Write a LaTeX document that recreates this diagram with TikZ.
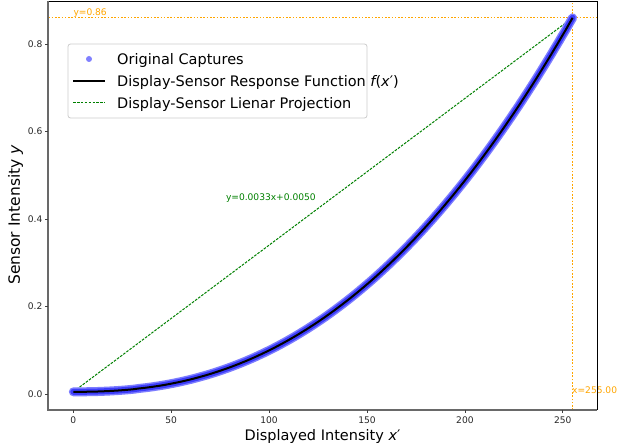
\documentclass[tikz,border=0pt]{standalone}
\usepackage{fontspec}
\setmainfont{DejaVu Sans}
\definecolor{mplgreen}{RGB}{0,128,0}
\definecolor{mplorange}{RGB}{255,165,0}
\definecolor{bandout}{RGB}{125,125,255}
\definecolor{bandin}{RGB}{60,60,250}
\definecolor{legmark}{RGB}{128,128,255}
\definecolor{spinegray}{RGB}{105,105,105}
\tikzset{
  bigfont/.style={font=\fontsize{14.5}{17}\selectfont},
  smallfont/.style={font=\fontsize{9.1}{11}\selectfont},
  ticklbl/.style={smallfont, inner sep=0pt, text=black!85},
  tickmark/.style={draw=black!75, line width=0.8pt},
  greendash/.style={draw=mplgreen, line width=1pt, dash pattern=on 2.6pt off 1.3pt},
  orangedot/.style={draw=mplorange, line width=1.4pt, dash pattern=on 1.6pt off 1.7pt},
}
\begin{document}
\begin{tikzpicture}[x=1pt,y=1pt]
\useasboundingbox (0,0) rectangle (617,446);
% axes corners
\coordinate (axSW) at (48,36);
\coordinate (axSE) at (597,36);
\coordinate (axNW) at (48,445);
\coordinate (axNE) at (597,445);

% data scope
\begin{scope}[shift={(73.3pt,52pt)}, x=1.958pt, y=437.5pt]
  \coordinate (p0) at (0,0.005);
  \coordinate (p1) at (255,0.86);
  \coordinate (hl) at (-12.75,0.86);
  \coordinate (hr) at (267.75,0.86);
  \coordinate (vb) at (255,-0.0366);
  \coordinate (vt) at (255,0.8983);
  % orange guide lines
  \draw[orangedot] (hl) -- (hr);
  \draw[orangedot] (vb) -- (vt);
  % linear projection
  \draw[greendash] (p0) -- (p1);
  % captures band
  \draw[bandout, line width=9pt, line cap=round, line join=round]
    plot[domain=0.01:255, samples=140, smooth] (\x, {0.005+0.855*(\x/255)^2.35});
  \draw[bandin, line width=6pt, line cap=round, line join=round]
    plot[domain=0.01:255, samples=140, smooth] (\x, {0.005+0.855*(\x/255)^2.35});
  % response function
  \draw[black, line width=2pt, line join=round]
    plot[domain=0.01:255, samples=140, smooth] (\x, {0.005+0.855*(\x/255)^2.35});
  % annotations
  \node[smallfont, text=mplorange, anchor=base west, inner sep=0pt] (lblh) at (0,0.8643) {y=0.86};
  \node[smallfont, text=mplorange, anchor=base west, inner sep=0pt] (lblv) at (254.7,0) {x=255.00};
  \node[smallfont, text=mplgreen, anchor=base, inner sep=0pt] (lbll) at (100.9,0.4434) {y=0.0033x+0.0050};
\end{scope}

% spines
\draw[black, line width=0.8pt] (axNW) -- (axNE) -- (axSE);
\draw[spinegray, line width=1.6pt] (axNW) -- (axSW) -- (axSE);

% x ticks
\foreach \v in {0,50,100,150,200,250}{
  \draw[tickmark] ({73.3+1.958*\v},36) -- ++(0,-3.5);
  \node[ticklbl, anchor=north] (xt\v) at ({73.3+1.958*\v},29.5) {\v};
}
% y ticks
\foreach \v/\n in {0.0/a,0.2/b,0.4/c,0.6/d,0.8/e}{
  \draw[tickmark] (48,{52+437.5*\v}) -- ++(-3.5,0);
  \node[ticklbl, anchor=east] (yt\n) at (42.5,{52+437.5*\v}) {\v};
}

% axis labels
\node[bigfont] (xlab) at (322.5,9.5) {Displayed Intensity {\itshape x}′};
\node[font=\fontsize{15.5}{18}\selectfont, rotate=90] (ylab) at (15.5,231) {Sensor Intensity {\itshape y}};

% legend
\draw[draw=black!20, fill=white, fill opacity=0.8, rounded corners=2.5pt, line width=0.8pt]
  (68,328) rectangle (367,402);
\node[circle, fill=legmark, inner sep=0pt, minimum size=6pt] (lm1) at (89,387) {};
\coordinate (l2a) at (73,365);
\coordinate (l2b) at (105,365);
\draw[black, line width=2pt] (l2a) -- (l2b);
\coordinate (l3a) at (73,343);
\coordinate (l3b) at (105,343);
\draw[greendash] (l3a) -- (l3b);
\node[bigfont, anchor=base west, inner sep=0pt] (lt1) at (117,381.7) {Original Captures};
\node[bigfont, anchor=base west, inner sep=0pt] (lt2) at (117,359.7) {Display-Sensor Response Function {\itshape f}({\itshape x}′)};
\node[bigfont, anchor=base west, inner sep=0pt] (lt3) at (117,337.7) {Display-Sensor Lienar Projection};
\end{tikzpicture}
\end{document}
